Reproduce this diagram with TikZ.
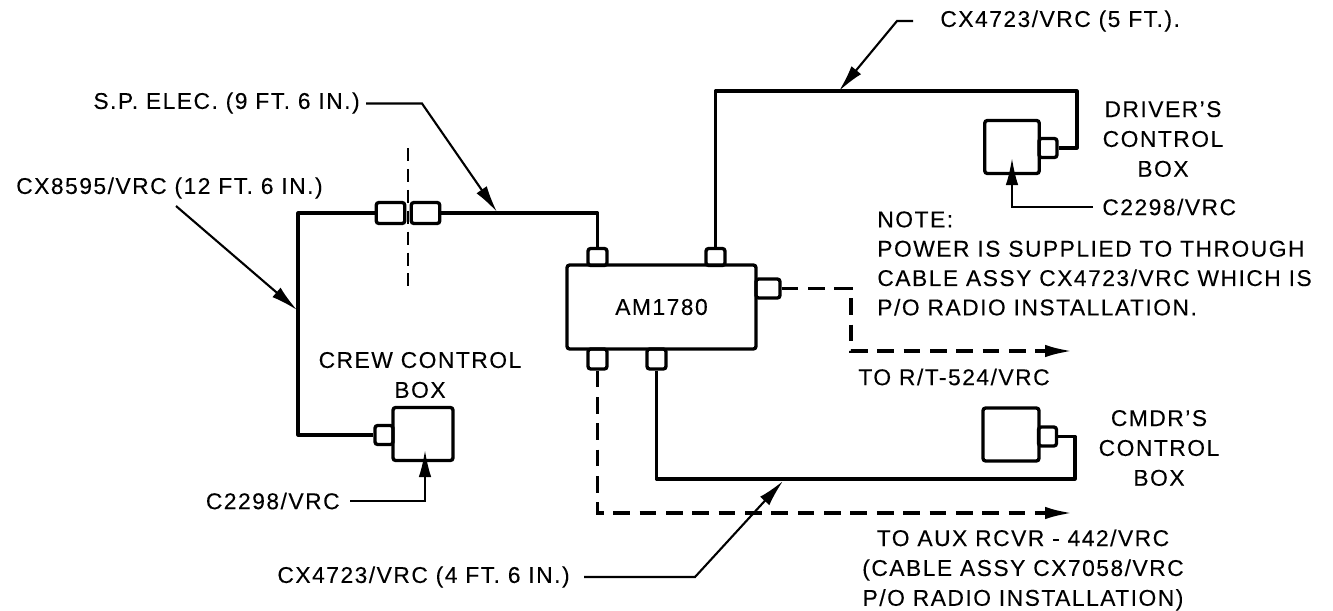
\documentclass[tikz,border=0pt]{standalone}
\usepackage{fontspec}
\setmainfont[LetterSpace=6.5,FakeBold=0.15]{Liberation Sans}
\usetikzlibrary{arrows.meta}

\begin{document}
\begin{tikzpicture}[
    x=0.02cm, y=-0.02cm,
    >={Latex[length=5.4mm,width=2.5mm]},
    unit/.style={
        rectangle, draw, line width=1.9pt, rounded corners=1.5pt, inner sep=0pt,
        font=\fontsize{13}{15}\selectfont
    },
    ctrlbox/.style={unit, minimum width=10.9mm, minimum height=10.6mm},
    plugv/.style={unit, minimum width=3.8mm, minimum height=3.4mm},
    plugh/.style={unit, minimum width=3.6mm, minimum height=3.8mm},
    splice/.style={unit, minimum width=5.7mm, minimum height=4.2mm},
    lbl/.style={font=\fontsize{13}{17}\selectfont, align=center, inner sep=0pt},
    wire/.style={line width=1.8pt, line join=round},
    feed/.style={line width=1.8pt, dash pattern=on 9.5pt off 5.5pt, ->},
    lead/.style={line width=1.2pt, ->}
]
\useasboundingbox (0,0) rectangle (1333,610);
% distribution box
\node[unit, minimum width=37.8mm, minimum height=16.8mm] (am) at (661.5,307) {AM1780};
\node[plugv] (amtl) at (597.5,257) {};
\node[plugv] (amtr) at (715.5,257) {};
\node[plugh, minimum width=4.8mm] (amr) at (768,288.5) {};
\node[plugv, minimum height=4mm] (ambl) at (597.5,359) {};
\node[plugv, minimum height=4mm] (ambr) at (656.5,359) {};
% control boxes
\node[ctrlbox] (drv) at (1012,147) {};
\node[plugh] (drvp) at (1048,148) {};
\node[ctrlbox, minimum width=12mm] (crew) at (423,434) {};
\node[plugh] (crewp) at (384,435) {};
\node[ctrlbox, minimum width=11.2mm] (cmdr) at (1011,434.5) {};
\node[plugh] (cmdrp) at (1047.5,436.5) {};
% splice
\node[splice] (spl) at (390.5,213) {};
\node[splice] (spr) at (425.5,213) {};
\coordinate (cut1) at (408,148);
\coordinate (cut2) at (408,293);
\draw[line width=1.5pt, dash pattern=on 7.4pt off 4.5pt] (cut1) -- (cut2);
% labels
\node[lbl, anchor=east] (lspe) at (360,103) {S.P. ELEC. (9 FT. 6 IN.)};
\node[lbl, anchor=east] (lcx8) at (323,188) {CX8595/VRC (12 FT. 6 IN.)};
\node[lbl, anchor=west] (lcx5) at (940,21) {CX4723/VRC (5 FT.).};
\node[lbl] (ldrv) at (1163,139) {DRIVER'S\\CONTROL\\BOX};
\node[lbl, anchor=west] (lc1) at (1102,207) {C2298/VRC};
\node[lbl, anchor=north west, align=left, font=\fontsize{13}{16.7}\selectfont] (lnote) at (877,211) {NOTE:\\POWER IS SUPPLIED TO THROUGH\\CABLE ASSY CX4723/VRC WHICH IS\\P/O RADIO INSTALLATION.};
\node[lbl] (lcrew) at (420,375) {CREW CONTROL\\BOX};
\node[lbl, anchor=east] (lc2) at (340,501) {C2298/VRC};
\node[lbl] (lcmdr) at (1159,448) {CMDR'S\\CONTROL\\BOX};
\node[lbl, anchor=west] (lrt) at (858,377) {TO R/T-524/VRC};
\node[lbl] (laux) at (1023,570) {TO AUX RCVR - 442/VRC\\(CABLE ASSY CX7058/VRC\\P/O RADIO INSTALLATION)};
\node[lbl, anchor=east] (lcx4) at (570,577) {CX4723/VRC (4 FT. 6 IN.)};
% wires
\coordinate (wcr) at (298,213);
\coordinate (dvt) at (1077,91);
\coordinate (cmb) at (1075,479);
\coordinate (rt1) at (851,288.5);
\coordinate (rt2) at (1072,351);
\coordinate (ax1) at (1072,513);
\draw[wire] (crewp.west) -| (wcr) -- (spl.west);
\draw[wire] (spr.east) -| (amtl.north);
\draw[wire] (amtr.north) |- (dvt) |- (drvp.east);
\draw[wire] (ambr.south) |- (cmb) |- (cmdrp.east);
\draw[feed] (amr.east) -| (rt1) |- (rt2);
\draw[feed] (ambl.south) |- (ax1);
% leaders
\coordinate (a0) at (366,103.5);
\coordinate (a1) at (422,103.5);
\coordinate (a2) at (497,212);
\coordinate (b1) at (176,206);
\coordinate (b2) at (297,310);
\coordinate (c0) at (913,21);
\coordinate (c1) at (897,21);
\coordinate (c2) at (839,91);
\coordinate (d0) at (584,577);
\coordinate (d1) at (695,577);
\coordinate (d2) at (783,481);
\coordinate (e0) at (1093,207);
\coordinate (e1) at (1012,207);
\coordinate (e2) at (1012,158);
\coordinate (f0) at (350,501);
\coordinate (f1) at (425,501);
\coordinate (f2) at (425,450);
\draw[lead] (a0) -- (a1) -- (a2);
\draw[lead] (b1) -- (b2);
\draw[lead] (c0) -- (c1) -- (c2);
\draw[lead] (d0) -- (d1) -- (d2);
\draw[lead] (e0) -- (e1) -- (e2);
\draw[lead] (f0) -- (f1) -- (f2);
\end{tikzpicture}
\end{document}
